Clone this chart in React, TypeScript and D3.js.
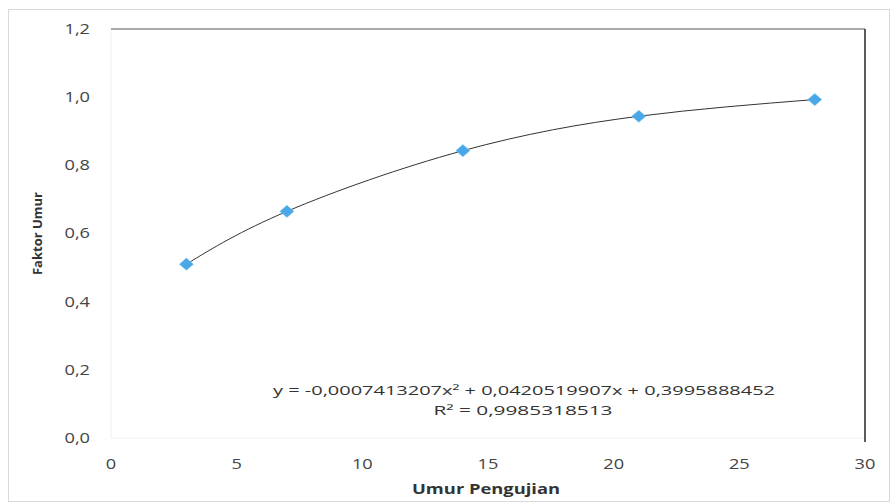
import React from 'react';
import * as d3 from 'd3';

// Umur pengujian (hari) vs faktor umur
const umur = [3, 7, 14, 21, 28];
const faktor = [0.51, 0.665, 0.843, 0.944, 0.993];
const xTicks = [0, 5, 10, 15, 20, 25, 30];
const yTicks = [0, 0.2, 0.4, 0.6, 0.8, 1.0, 1.2];
const equationText = 'y = -0,0007413207x² + 0,0420519907x + 0,3995888452';
const r2Text = 'R² = 0,9985318513';

const W = 890;
const H = 504;
const margin = { top: 29, right: 25, bottom: 66, left: 111 };

export default function App() {
  const x = d3.scaleLinear().domain([0, 30]).range([margin.left, W - margin.right]);
  const y = d3.scaleLinear().domain([0, 1.2]).range([H - margin.bottom, margin.top]);

  const points = umur.map((u, i) => [u, faktor[i]] as [number, number]);
  const trend = d3.line<[number, number]>()
    .x(d => x(d[0]))
    .y(d => y(d[1]))
    .curve(d3.curveNatural)(points);

  const fmt = (v: number) => v.toFixed(1).replace('.', ',');
  const font = '"Open Sans", "Liberation Sans", sans-serif';
  const diamond = d3.symbol(d3.symbolDiamond2, 95)();

  return (
    <svg width={W} height={H} style={{ position: 'absolute', left: 0, top: 0, background: '#fff' }} fontFamily={font}>
      <rect x={8.5} y={9.5} width={W - 9} height={H - 12} fill="none" stroke="#d9d9d9" />
      {/* faint axis hints */}
      <line x1={x(0)} x2={x(0)} y1={y(1.2)} y2={y(0)} stroke="#f0f0f0" />
      <line x1={x(0)} x2={x(30)} y1={y(0)} y2={y(0)} stroke="#f0f0f0" />
      {/* top and right border of plot area */}
      <line x1={x(0)} x2={x(30)} y1={y(1.2)} y2={y(1.2)} stroke="#555" strokeWidth={1} />
      <line x1={x(30)} x2={x(30)} y1={y(1.2)} y2={y(0) + 4} stroke="#333" strokeWidth={1.6} />

      {yTicks.map(t => (
        <g key={'y' + t} transform={`translate(${x(0) - 21},${y(t)}) scale(1.3,1)`}>
          <text dy="0.35em" textAnchor="end" fontSize={14} fill="#444">{fmt(t)}</text>
        </g>
      ))}
      {xTicks.map(t => (
        <g key={'x' + t} transform={`translate(${x(t)},${y(0) + 31}) scale(1.3,1)`}>
          <text textAnchor="middle" fontSize={14} fill="#444">{t}</text>
        </g>
      ))}

      <text transform={`translate(42,${(y(0) + y(1.2)) / 2}) rotate(-90)`} textAnchor="middle" fontSize={13} fontWeight="bold" fill="#333">
        Faktor Umur
      </text>
      <text x={486} y={494} textAnchor="middle" fontSize={13.5} fontWeight="bold" fill="#333"
        textLength={148} lengthAdjust="spacingAndGlyphs">
        Umur Pengujian
      </text>

      <path d={trend ?? ''} fill="none" stroke="#333" strokeWidth={1} />
      {points.map((p, i) => (
        <path key={i} d={diamond ?? ''} transform={`translate(${x(p[0])},${y(p[1])}) scale(1.15,1)`} fill="#4aa8e8" stroke="#7cc4f0" strokeWidth={0.5} />
      ))}

      <text x={524} y={395} textAnchor="middle" fontSize={13} fill="#333"
        textLength={502} lengthAdjust="spacingAndGlyphs">{equationText}</text>
      <text x={523} y={415} textAnchor="middle" fontSize={13} fill="#333"
        textLength={179} lengthAdjust="spacingAndGlyphs">{r2Text}</text>
    </svg>
  );
}
